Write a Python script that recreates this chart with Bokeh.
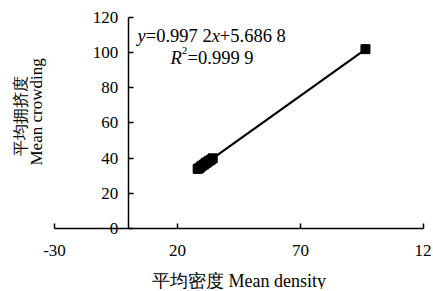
import numpy as np
from bokeh.plotting import figure
from bokeh.models import Range1d, FixedTicker, Label, ColumnDataSource
from bokeh.embed import file_html
from bokeh.resources import INLINE

# ---- data ----
mean_density = [28.2, 28.9, 29.5, 30.1, 30.8, 31.4, 32.0, 32.7, 33.5, 34.3, 96.4]
mean_crowding = [33.9, 34.4, 35.2, 35.8, 36.4, 37.2, 37.6, 38.4, 39.1, 39.9, 102.0]
slope = 0.9972
intercept = 5.6868
x_ticks = [-30, 20, 70, 120]
y_ticks = [0, 20, 40, 60, 80, 100, 120]
x_tick_labels = {-30: "-30", 120: "12"}
eq_parts = ["y", "=0.997 2", "x", "+5.686 8"]
r2_parts = ["R", "2", "=0.999 9"]
x_title = "平均密度 Mean density"
y_title_cn = "平均拥挤度"
y_title_en = "Mean crowding"

SERIF = "Liberation Serif, Times New Roman, serif"
W, H = 431, 289

p = figure(width=W, height=H, output_backend="svg", toolbar_location=None,
           x_range=Range1d(-51.95, 123.25), y_range=Range1d(-34.7, 129.67),
           min_border_left=0, min_border_right=0, min_border_top=0, min_border_bottom=0)
p.outline_line_color = None
p.grid.visible = False
p.background_fill_color = "white"

# axes
p.axis.axis_line_color = "black"
p.axis.axis_line_width = 1.5
p.axis.major_tick_line_color = "black"
p.axis.major_tick_line_width = 1.5
p.axis.major_tick_in = 5
p.axis.major_tick_out = 0
p.axis.minor_tick_line_color = None
p.axis.major_label_text_font = SERIF
p.axis.major_label_text_font_size = "17px"
p.axis.major_label_text_color = "black"

p.xaxis.fixed_location = 0
p.xaxis.bounds = (-30, 120)
p.xaxis.ticker = FixedTicker(ticks=x_ticks)
p.xaxis.major_label_overrides = x_tick_labels
p.xaxis.major_label_standoff = 17
p.xaxis.axis_label = x_title
p.xaxis.axis_label_text_font = SERIF
p.xaxis.axis_label_text_font_style = "normal"
p.xaxis.axis_label_text_font_size = "18px"
p.xaxis.axis_label_text_color = "black"
p.xaxis.axis_label_standoff = 11

p.yaxis.fixed_location = 0
p.yaxis.bounds = (0, 120)
p.yaxis.ticker = FixedTicker(ticks=y_ticks)
p.yaxis.major_label_standoff = 10

# trend line over the data span
xs = np.array([min(mean_density), max(mean_density)])
p.line(xs, slope * xs + intercept, line_color="black", line_width=2.2)

# points
src = ColumnDataSource(dict(x=mean_density, y=mean_crowding))
p.scatter("x", "y", source=src, marker="square", size=9, fill_color="black", line_color="black")

# equation text (screen units relative to frame = whole canvas)
fs = 18.5
em = fs
def lab(txt, x, y, style="normal", size=fs):
    p.add_layout(Label(x=x, y=y, x_units="screen", y_units="screen", text=txt,
                       text_font=SERIF, text_font_size=f"{size}px", text_font_style=style,
                       text_color="black", text_baseline="alphabetic", text_align="left"))

x0, y0 = 137, H - 35
w = [0.444, 3.564, 0.444, 3.564]
cx = x0
for part, ww, st in zip(eq_parts, w, ["italic", "normal", "italic", "normal"]):
    lab(part, cx, y0, st)
    cx += ww * em

x1, y1 = 170, H - 57
lab(r2_parts[0], x1, y1, "italic")
lab(r2_parts[1], x1 + 0.611 * em, y1 + 7, "normal", 11)
lab(r2_parts[2], x1 + 0.611 * em + 5.8, y1, "normal")

# y-axis title, two rotated lines (anchored at their bottom ends)
for txt, xx, yy, fsz in ((y_title_cn, 20, 155, "15.5px"), (y_title_en, 36, 165, "17px")):
    p.add_layout(Label(x=xx, y=H - yy, x_units="screen", y_units="screen", text=txt,
                       angle=np.pi / 2, text_font=SERIF, text_font_size=fsz,
                       text_color="black", text_align="left", text_baseline="middle"))

open("out.html", "w").write(file_html(p, INLINE))
